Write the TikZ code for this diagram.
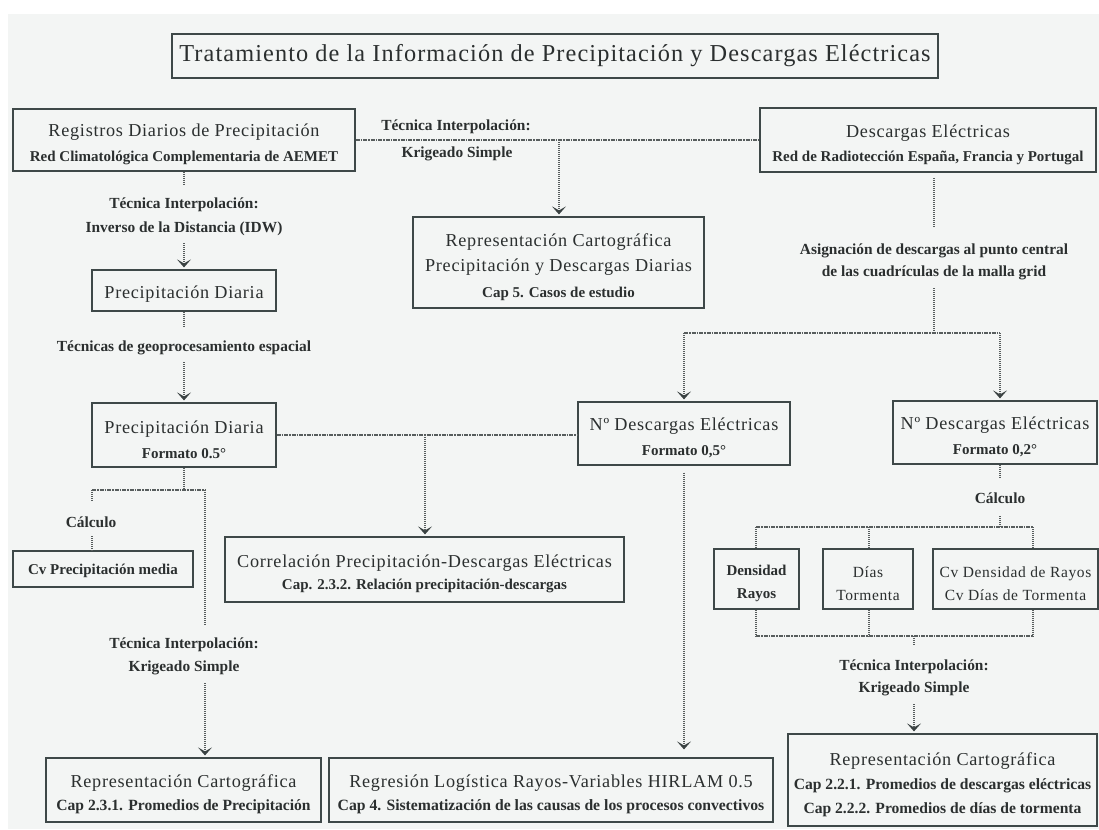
\documentclass[tikz,border=0pt]{standalone}
\usepackage{fontspec}
\setmainfont{Liberation Serif}
\newfontfamily\spf{Liberation Serif}[LetterSpace=4]
\newfontfamily\tpf{Liberation Serif}[LetterSpace=4.5]
\usetikzlibrary{arrows.meta}
\definecolor{bg}{HTML}{F3F5F4}
\definecolor{boxc}{HTML}{3E4848}
\definecolor{txt}{HTML}{2B2F2F}
\definecolor{lnc}{HTML}{575D5D}
\definecolor{arc}{HTML}{3A4242}
\newcommand{\TL}[1]{{\tpf\fontsize{24.3}{26}\selectfont #1}}
\newcommand{\BL}[1]{{\spf\fontsize{18.2}{20}\selectfont #1}}
\newcommand{\FL}[1]{{\spf\fontsize{18.2}{20}\selectfont\rule{0pt}{21.5pt}#1}}
\newcommand{\OL}[1]{{\spf\fontsize{18.2}{20}\selectfont\rule{0pt}{20pt}#1}}
\newcommand{\SL}[1]{{\bfseries\fontsize{15}{18}\selectfont #1}}
\newcommand{\SB}[1]{{\bfseries\fontsize{15.6}{18}\selectfont #1}}
\newcommand{\SR}[1]{{\bfseries\fontsize{15.7}{18}\selectfont #1}}
\newcommand{\FS}[1]{{\bfseries\fontsize{15}{18}\selectfont\rule{0pt}{20pt}#1}}
\newcommand{\ML}[1]{{\spf\fontsize{15.5}{18}\selectfont #1}}
\newcommand{\FM}[1]{{\spf\fontsize{15.5}{18}\selectfont\rule{0pt}{20pt}#1}}
\tikzset{
  box/.style={draw=boxc, line width=1.2pt, inner sep=0pt, align=center, text=txt},
  bs/.style={font=\fontsize{10}{#1}\selectfont},
  lbl/.style={inner sep=0pt, text=txt, font=\bfseries\fontsize{15.4}{18}\selectfont},
  hl/.style={draw=lnc, line width=1.3pt, dash pattern=on 4pt off 1pt on 1.5pt off 1pt},
  vl/.style={draw=lnc, line width=1.3pt, dash pattern=on 1pt off 1pt},
  arr/.style={-{Stealth[length=8pt,width=14pt,inset=4pt,color=arc]}, shorten >=2pt}
}
\begin{document}
\begin{tikzpicture}[x=1pt,y=-1pt]
\useasboundingbox (0,0) rectangle (1099,829);
\fill[white] (0,0) rectangle (1099,829);
\fill[bg] (8,14) rectangle (1099,829);

% boxes
\node[box, minimum width=766pt, minimum height=44pt] (title) at (555,56) {\TL{Tratamiento de la Información de Precipitación y Descargas Eléctricas}};
\node[box, bs=25, minimum width=342pt, minimum height=62pt] (reg) at (184,140) {\FL{Registros Diarios de Precipitación}\\\SL{Red Climatológica Complementaria de AEMET}};
\node[box, bs=24, minimum width=336pt, minimum height=64pt] (desc) at (928,140) {\FL{Descargas Eléctricas}\\\SL{Red de Radiotección España, Francia y Portugal}};
\node[box, bs=25.5, minimum width=291pt, minimum height=91pt] (repmid) at (558.5,262.5) {\FL{Representación Cartográfica}\\\BL{Precipitación y Descargas Diarias}\\\SL{Cap 5. Casos de estudio}};
\node[box, minimum width=184pt, minimum height=41pt] (pd1) at (184,290.5) {\OL{Precipitación Diaria}};
\node[box, bs=25, minimum width=184pt, minimum height=64pt] (pd2) at (184,435) {\FL{Precipitación Diaria}\\\SL{Formato 0.5°}};
\node[box, bs=25, minimum width=212pt, minimum height=63pt] (n05) at (684,433.5) {\FL{Nº Descargas Eléctricas}\\\SL{Formato 0,5°}};
\node[box, bs=25, minimum width=204pt, minimum height=63pt] (n02) at (995,432.5) {\FL{Nº Descargas Eléctricas}\\\SL{Formato 0,2°}};
\node[box, bs=21.5, minimum width=399pt, minimum height=65pt] (corr) at (424.5,569.5) {\FL{Correlación Precipitación-Descargas Eléctricas}\\\SL{Cap. 2.3.2. Relación precipitación-descargas}};
\node[box, minimum width=180pt, minimum height=36pt] (cv) at (103,569) {\SL{\rule{0pt}{14pt}Cv Precipitación media}};
\node[box, bs=23, minimum width=85pt, minimum height=60pt] (dens) at (756.5,579) {\FS{Densidad}\\\SL{Rayos}};
\node[box, bs=23, minimum width=90pt, minimum height=60pt] (dias) at (868,579) {\FM{Días}\\\ML{Tormenta}};
\node[box, bs=23, minimum width=165pt, minimum height=60pt] (cvd) at (1015.5,579) {\FM{Cv Densidad de Rayos}\\\ML{Cv Días de Tormenta}};
\node[box, bs=23, minimum width=275pt, minimum height=64pt] (repL) at (183.5,790) {\FL{Representación Cartográfica}\\\SB{Cap 2.3.1. Promedios de Precipitación}};
\node[box, bs=23, minimum width=444pt, minimum height=64pt] (regr) at (551,790) {\FL{Regresión Logística Rayos-Variables HIRLAM 0.5}\\\SR{Cap 4. Sistematización de las causas de los procesos convectivos}};
\node[box, bs=24, minimum width=309pt, minimum height=92pt] (repR) at (942.5,780) {\FL{Representación Cartográfica}\\\SB{Cap 2.2.1. Promedios de descargas eléctricas}\\\SB{Cap 2.2.2. Promedios de días de tormenta}};

% labels
\node[lbl] (tk1) at (456,127) {Técnica Interpolación:};
\node[lbl] (tk2) at (457,154) {Krigeado Simple};
\node[lbl] (ti1) at (184,205) {Técnica Interpolación:};
\node[lbl] (ti2) at (184,229) {Inverso de la Distancia (IDW)};
\node[lbl] (tg) at (184,348) {Técnicas de geoprocesamiento espacial};
\node[lbl] (as1) at (934,251) {Asignación de descargas al punto central};
\node[lbl] (as2) at (934,273) {de las cuadrículas de la malla grid};
\node[lbl] (calc1) at (91,522) {Cálculo};
\node[lbl] (tl1) at (184,645) {Técnica Interpolación:};
\node[lbl] (tl2) at (184,668) {Krigeado Simple};
\node[lbl] (calc2) at (1000,498) {Cálculo};
\node[lbl] (tr1) at (914,667) {Técnica Interpolación:};
\node[lbl] (tr2) at (914,689) {Krigeado Simple};

% connectors
\draw[hl] (reg.east) -- (desc.west);
\coordinate (k1) at (559,140);
\draw[vl,arr] (k1) -- (k1 |- repmid.north);

\coordinate (a1) at (184,185);
\draw[vl] (reg.south) -- (a1);
\coordinate (a2) at (184,243);
\draw[vl,arr] (a2) -- (pd1.north);
\coordinate (a3) at (184,327);
\draw[vl] (pd1.south) -- (a3);
\coordinate (a4) at (184,362);
\draw[vl,arr] (a4) -- (pd2.north);

\coordinate (d1) at (934,178);
\coordinate (d2) at (934,228);
\draw[vl] (d1) -- (d2);
\coordinate (d3) at (934,288);
\coordinate (d4) at (934,333);
\draw[vl] (d3) -- (d4);
\coordinate (d5) at (684,333);
\coordinate (d6) at (1000,333);
\draw[hl] (d5) -- (d6);
\draw[vl,arr] (d5) -- (n05.north);
\draw[vl,arr] (d6) -- (d6 |- n02.north);

\draw[hl] (pd2.east) -- (pd2.east -| n05.west);
\coordinate (e1) at (425,435);
\draw[vl,arr] (e1) -- (e1 |- corr.north);

\coordinate (f1) at (184,490);
\draw[vl] (pd2.south) -- (f1);
\coordinate (f2) at (92,490);
\coordinate (f3) at (205,490);
\draw[hl] (f2) -- (f3);
\coordinate (f4) at (92,502);
\draw[vl] (f2) -- (f4);
\coordinate (f5) at (92,536);
\draw[vl] (f5) -- (f5 |- cv.north);
\coordinate (f6) at (205,625);
\draw[vl] (f3) -- (f6);
\coordinate (f7) at (205,683);
\draw[vl,arr] (f7) -- (f7 |- repL.north);

\draw[vl,arr,shorten <=7pt,shorten >=8pt] (n05.south) -- (n05.south |- regr.north);

\coordinate (h1) at (1000,478);
\draw[vl] (h1 |- n02.south) -- (h1);
\coordinate (h2) at (1000,516);
\coordinate (h3) at (1000,527);
\draw[vl] (h2) -- (h3);
\coordinate (h4) at (756,527);
\coordinate (h5) at (1033,527);
\coordinate (h6) at (869,527);
\draw[hl] (h4) -- (h5);
\draw[vl] (h4) -- (h4 |- dens.north);
\draw[vl] (h6) -- (h6 |- dias.north);
\draw[vl] (h5) -- (h5 |- cvd.north);

\coordinate (i1) at (756,636);
\coordinate (i2) at (869,636);
\coordinate (i3) at (1033,636);
\draw[vl] (i1 |- dens.south) -- (i1);
\draw[vl] (i2 |- dias.south) -- (i2);
\draw[vl] (i3 |- cvd.south) -- (i3);
\draw[hl] (i1) -- (i3);
\coordinate (i4) at (914,636);
\coordinate (i5) at (914,645);
\draw[vl] (i4) -- (i5);
\coordinate (i6) at (914,704);
\draw[vl,arr] (i6) -- (i6 |- repR.north);
\end{tikzpicture}
\end{document}
